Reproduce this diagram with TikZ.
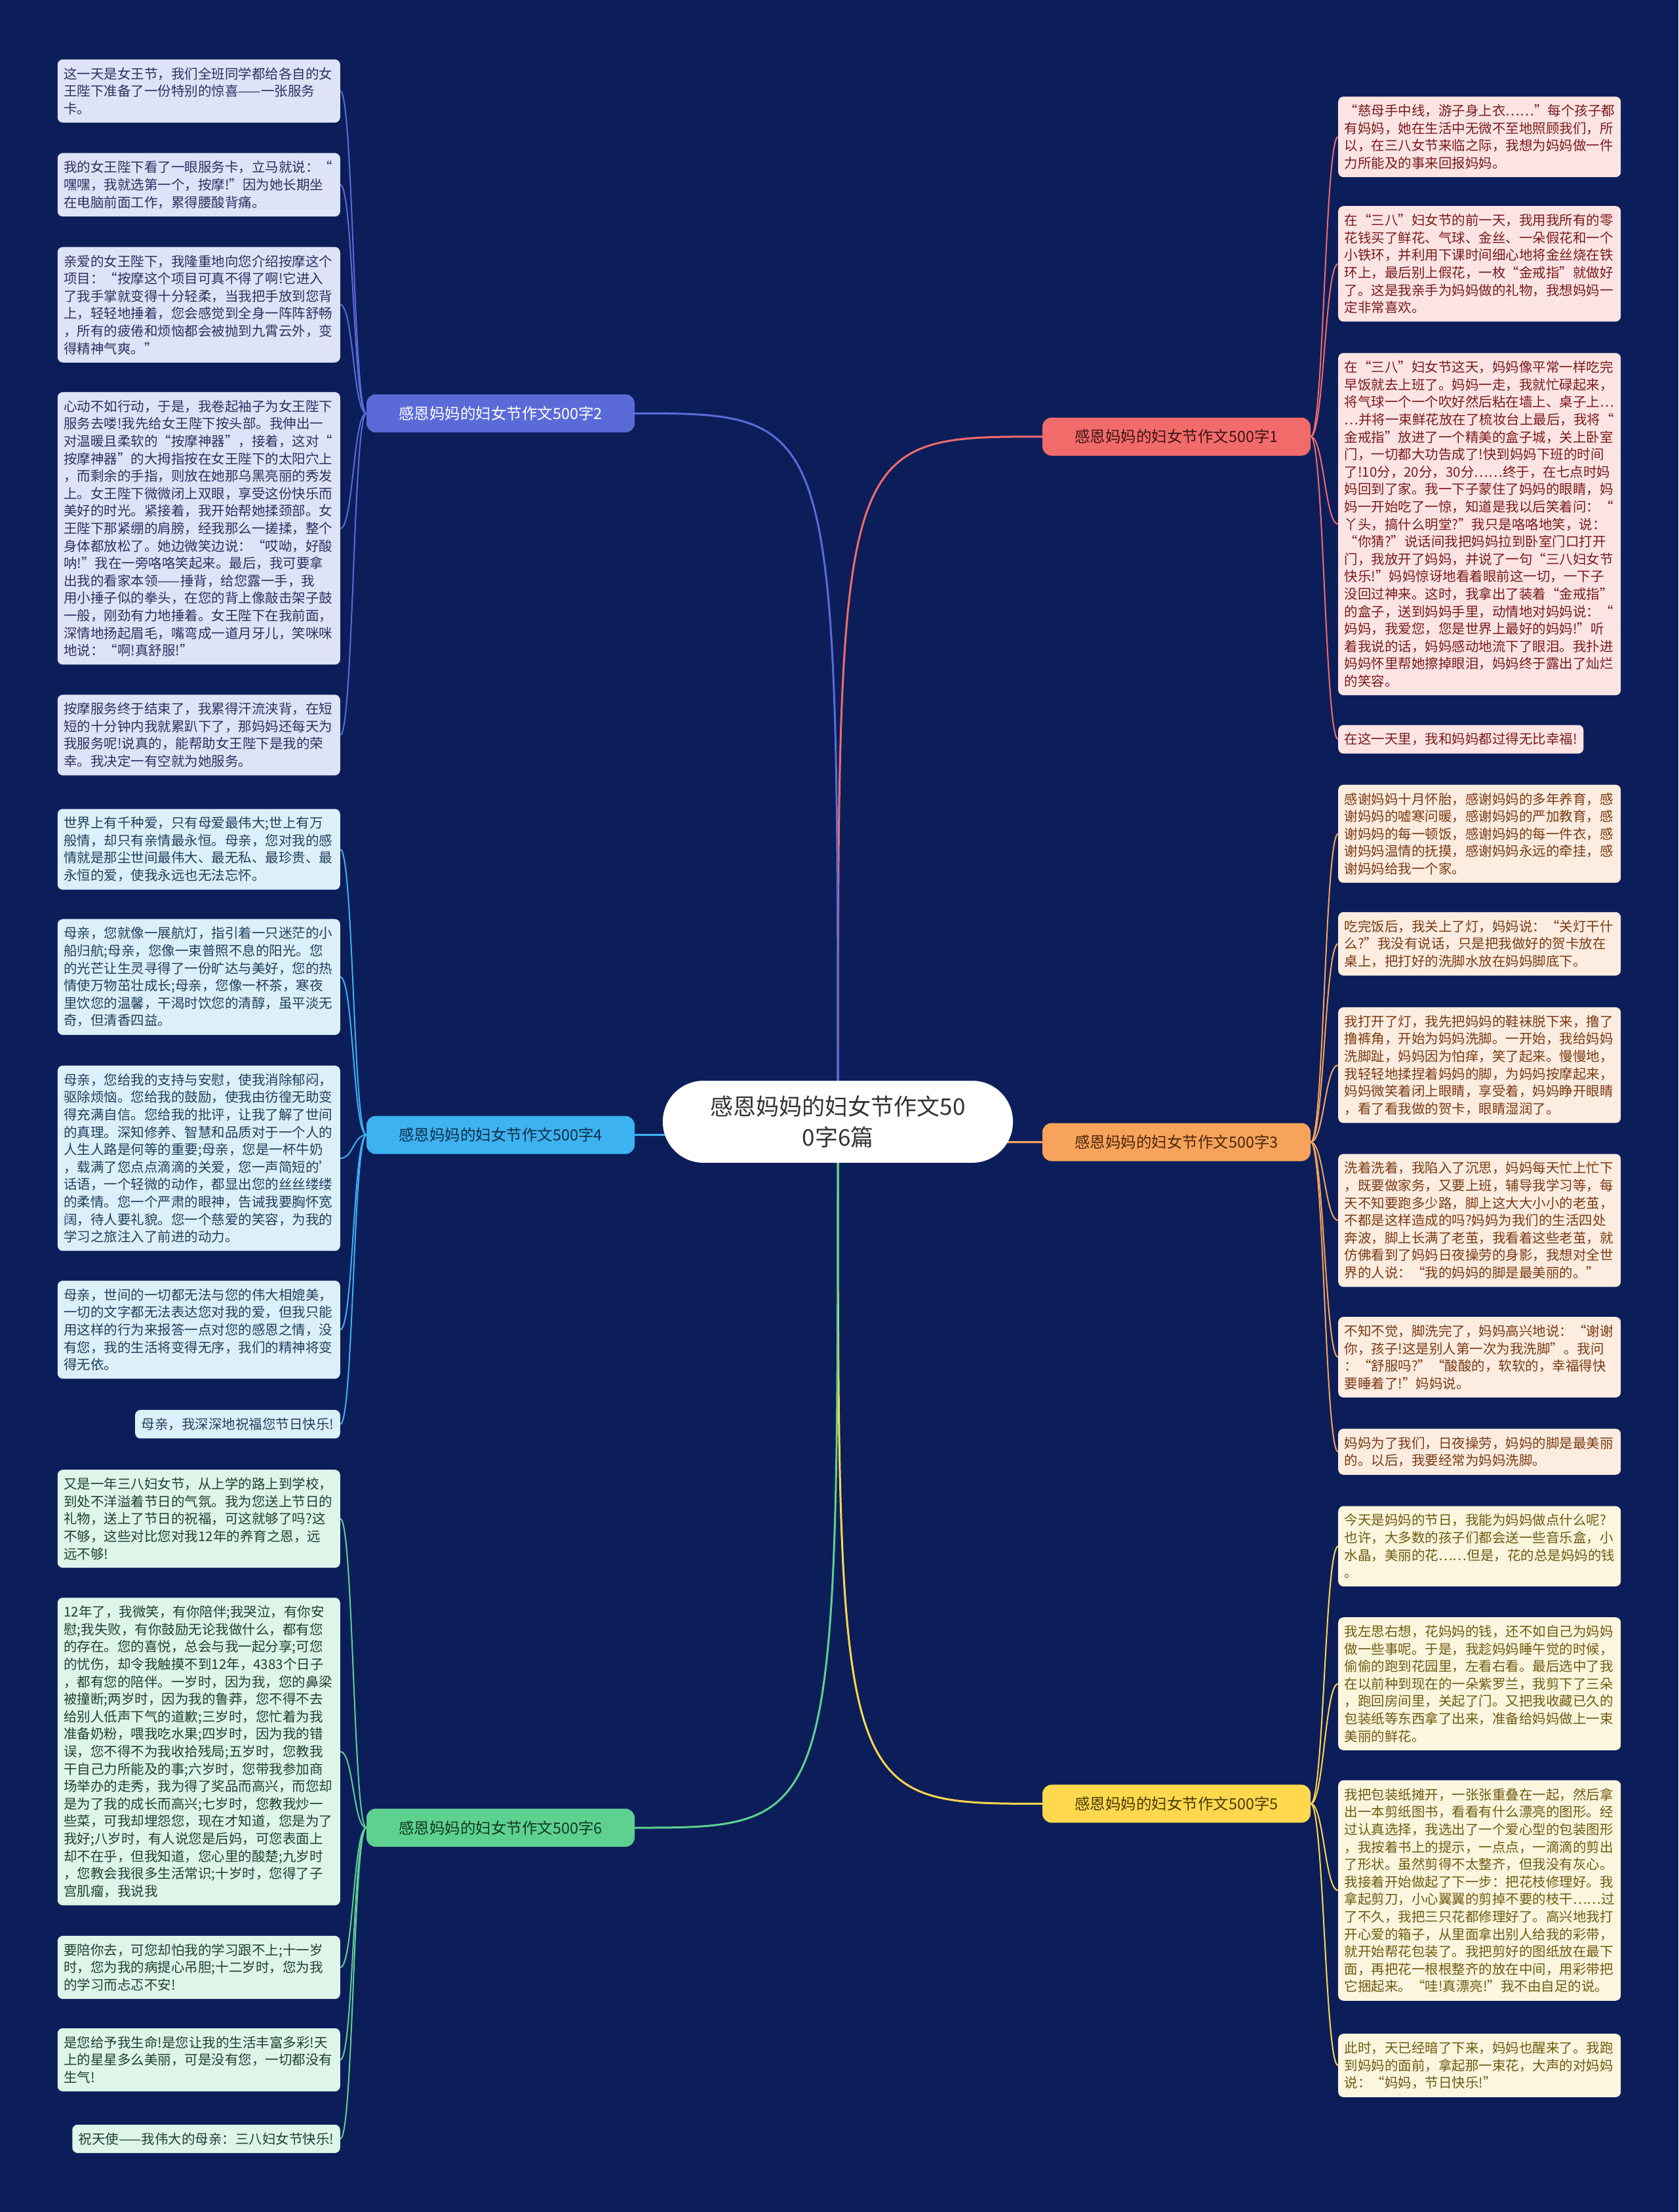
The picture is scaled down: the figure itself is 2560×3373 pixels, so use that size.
\documentclass[tikz,border=0pt]{standalone}
\usepackage{fontspec}
\setmainfont{Noto Sans CJK SC}
\usetikzlibrary{positioning,backgrounds}

\definecolor{bgnavy}{HTML}{0C1E5A}
\definecolor{rootink}{HTML}{333333}
% branch colours
\definecolor{b1fill}{HTML}{F26B6B}\definecolor{b1ink}{HTML}{3D1414}
\definecolor{b2fill}{HTML}{5A6BD8}\definecolor{b2ink}{HTML}{FFFFFF}
\definecolor{b3fill}{HTML}{F7A35C}\definecolor{b3ink}{HTML}{4A2608}
\definecolor{b4fill}{HTML}{3DB2F0}\definecolor{b4ink}{HTML}{0F2E4A}
\definecolor{b5fill}{HTML}{FFD84D}\definecolor{b5ink}{HTML}{4A3A05}
\definecolor{b6fill}{HTML}{5ED191}\definecolor{b6ink}{HTML}{0F3A22}
% leaf colours
\definecolor{g1fill}{HTML}{FDE4E4}\definecolor{g1ink}{HTML}{7A1A1A}
\definecolor{g2fill}{HTML}{DFE3F8}\definecolor{g2ink}{HTML}{2B3160}
\definecolor{g3fill}{HTML}{FDECE0}\definecolor{g3ink}{HTML}{7A3A12}
\definecolor{g4fill}{HTML}{DCF0FA}\definecolor{g4ink}{HTML}{1F3F5C}
\definecolor{g5fill}{HTML}{FDF6DE}\definecolor{g5ink}{HTML}{6E5A12}
\definecolor{g6fill}{HTML}{DEF5EA}\definecolor{g6ink}{HTML}{1E4030}

\newcommand{\leaffont}{\fontsize{20.5}{26.6}\selectfont}
\newcommand{\branchfont}{\fontsize{23.5}{28}\selectfont}
\newcommand{\rootfont}{\fontsize{35}{47}\selectfont}

\begin{document}
\begin{tikzpicture}[
  x=1pt, y=-1pt,
  rootnode/.style={rectangle, rounded corners=62pt, fill=white, text=rootink, minimum width=534pt, minimum height=125pt, align=center, font=\rootfont},
  branch/.style={rectangle, rounded corners=14pt, minimum width=409pt, minimum height=58pt, inner sep=0pt, font=\branchfont},
  leaf/.style={rectangle, rounded corners=8pt, inner xsep=9.5pt, inner ysep=12pt, align=left, font=\leaffont},
  wide/.style={text width=412pt},
  lleaf/.style={leaf, anchor=east},   % left column, hangs on its right edge
  rleaf/.style={leaf, anchor=west},   % right column, hangs on its left edge
  g1/.style={fill=g1fill, text=g1ink},
  g2/.style={fill=g2fill, text=g2ink},
  g3/.style={fill=g3fill, text=g3ink},
  g4/.style={fill=g4fill, text=g4ink},
  g5/.style={fill=g5fill, text=g5ink},
  g6/.style={fill=g6fill, text=g6ink},
  trunk/.style={line width=3pt},
  twig/.style={line width=2pt},
]
\useasboundingbox (0,0) rectangle (2560,3373);

% ============================== root & branches ==============================
\node[rootnode] (root) at (1278,1710.5) {感恩妈妈的妇女节作文50\\0字6篇};

\node[branch, fill=b1fill, text=b1ink] (b1) at (1794.5,665.8) {感恩妈妈的妇女节作文500字1};
\node[branch, fill=b2fill, text=b2ink] (b2) at (763.5,630.3)  {感恩妈妈的妇女节作文500字2};
\node[branch, fill=b3fill, text=b3ink] (b3) at (1794.5,1741.5) {感恩妈妈的妇女节作文500字3};
\node[branch, fill=b4fill, text=b4ink] (b4) at (763.5,1730.7) {感恩妈妈的妇女节作文500字4};
\node[branch, fill=b5fill, text=b5ink] (b5) at (1794.5,2750.4) {感恩妈妈的妇女节作文500字5};
\node[branch, fill=b6fill, text=b6ink] (b6) at (763.5,2787)   {感恩妈妈的妇女节作文500字6};

% ============================== branch 1 (right) ==============================
\node[rleaf, wide, g1] (r1a) at (2041,208.7) {“慈母手中线，游子身上衣……”每个孩子都\\有妈妈，她在生活中无微不至地照顾我们，所\\以，在三八女节来临之际，我想为妈妈做一件\\力所能及的事来回报妈妈。};
\node[rleaf, wide, g1] (r1b) at (2041,402.3) {在“三八”妇女节的前一天，我用我所有的零\\花钱买了鲜花、气球、金丝、一朵假花和一个\\小铁环，并利用下课时间细心地将金丝烧在铁\\环上，最后别上假花，一枚“金戒指”就做好\\了。这是我亲手为妈妈做的礼物，我想妈妈一\\定非常喜欢。};
\node[rleaf, wide, g1] (r1c) at (2041,799.2) {在“三八”妇女节这天，妈妈像平常一样吃完\\早饭就去上班了。妈妈一走，我就忙碌起来，\\将气球一个一个吹好然后粘在墙上、桌子上…\\…并将一束鲜花放在了梳妆台上最后，我将“\\金戒指”放进了一个精美的盒子城，关上卧室\\门，一切都大功告成了!快到妈妈下班的时间\\了!10分，20分，30分……终于，在七点时妈\\妈回到了家。我一下子蒙住了妈妈的眼睛，妈\\妈一开始吃了一惊，知道是我以后笑着问：“\\丫头，搞什么明堂?”我只是咯咯地笑，说：\\“你猜?”说话间我把妈妈拉到卧室门口打开\\门，我放开了妈妈，并说了一句“三八妇女节\\快乐!”妈妈惊讶地看着眼前这一切，一下子\\没回过神来。这时，我拿出了装着“金戒指”\\的盒子，送到妈妈手里，动情地对妈妈说：“\\妈妈，我爱您，您是世界上最好的妈妈!”听\\着我说的话，妈妈感动地流下了眼泪。我扑进\\妈妈怀里帮她擦掉眼泪，妈妈终于露出了灿烂\\的笑容。};
\node[rleaf, g1] (r1d) at (2041,1127.3) {在这一天里，我和妈妈都过得无比幸福!};

% ============================== branch 2 (left) ==============================
\node[lleaf, wide, g2] (l2a) at (519,138.8) {这一天是女王节，我们全班同学都给各自的女\\王陛下准备了一份特别的惊喜——一张服务\\卡。};
\node[lleaf, wide, g2] (l2b) at (519,281.8) {我的女王陛下看了一眼服务卡，立马就说：“\\嘿嘿，我就选第一个，按摩!”因为她长期坐\\在电脑前面工作，累得腰酸背痛。};
\node[lleaf, wide, g2] (l2c) at (519,464.7) {亲爱的女王陛下，我隆重地向您介绍按摩这个\\项目：“按摩这个项目可真不得了啊!它进入\\了我手掌就变得十分轻柔，当我把手放到您背\\上，轻轻地捶着，您会感觉到全身一阵阵舒畅\\，所有的疲倦和烦恼都会被抛到九霄云外，变\\得精神气爽。”};
\node[lleaf, wide, g2] (l2d) at (519,805.7) {心动不如行动，于是，我卷起袖子为女王陛下\\服务去喽!我先给女王陛下按头部。我伸出一\\对温暖且柔软的“按摩神器”，接着，这对“\\按摩神器”的大拇指按在女王陛下的太阳穴上\\，而剩余的手指，则放在她那乌黑亮丽的秀发\\上。女王陛下微微闭上双眼，享受这份快乐而\\美好的时光。紧接着，我开始帮她揉颈部。女\\王陛下那紧绷的肩膀，经我那么一搓揉，整个\\身体都放松了。她边微笑边说：“哎呦，好酸\\呐!”我在一旁咯咯笑起来。最后，我可要拿\\出我的看家本领——捶背，给您露一手，我\\用小捶子似的拳头，在您的背上像敲击架子鼓\\一般，刚劲有力地捶着。女王陛下在我前面，\\深情地扬起眉毛，嘴弯成一道月牙儿，笑咪咪\\地说：“啊!真舒服!”};
\node[lleaf, wide, g2] (l2e) at (519,1120.8) {按摩服务终于结束了，我累得汗流浃背，在短\\短的十分钟内我就累趴下了，那妈妈还每天为\\我服务呢!说真的，能帮助女王陛下是我的荣\\幸。我决定一有空就为她服务。};

% ============================== branch 3 (right) ==============================
\node[rleaf, wide, g3] (r3a) at (2041,1271.4) {感谢妈妈十月怀胎，感谢妈妈的多年养育，感\\谢妈妈的嘘寒问暖，感谢妈妈的严加教育，感\\谢妈妈的每一顿饭，感谢妈妈的每一件衣，感\\谢妈妈温情的抚摸，感谢妈妈永远的牵挂，感\\谢妈妈给我一个家。};
\node[rleaf, wide, g3] (r3b) at (2041,1439.2) {吃完饭后，我关上了灯，妈妈说：“关灯干什\\么?”我没有说话，只是把我做好的贺卡放在\\桌上，把打好的洗脚水放在妈妈脚底下。};
\node[rleaf, wide, g3] (r3c) at (2041,1624.2) {我打开了灯，我先把妈妈的鞋袜脱下来，撸了\\撸裤角，开始为妈妈洗脚。一开始，我给妈妈\\洗脚趾，妈妈因为怕痒，笑了起来。慢慢地，\\我轻轻地揉捏着妈妈的脚，为妈妈按摩起来，\\妈妈微笑着闭上眼睛，享受着，妈妈睁开眼睛\\，看了看我做的贺卡，眼睛湿润了。};
\node[rleaf, wide, g3] (r3d) at (2041,1860.9) {洗着洗着，我陷入了沉思，妈妈每天忙上忙下\\，既要做家务，又要上班，辅导我学习等，每\\天不知要跑多少路，脚上这大大小小的老茧，\\不都是这样造成的吗?妈妈为我们的生活四处\\奔波，脚上长满了老茧，我看着这些老茧，就\\仿佛看到了妈妈日夜操劳的身影，我想对全世\\界的人说：“我的妈妈的脚是最美丽的。”};
\node[rleaf, wide, g3] (r3e) at (2041,2069.5) {不知不觉，脚洗完了，妈妈高兴地说：“谢谢\\你，孩子!这是别人第一次为我洗脚”。我问\\：“舒服吗?”“酸酸的，软软的，幸福得快\\要睡着了!”妈妈说。};
\node[rleaf, wide, g3] (r3f) at (2041,2213.7) {妈妈为了我们，日夜操劳，妈妈的脚是最美丽\\的。以后，我要经常为妈妈洗脚。};

% ============================== branch 4 (left) ==============================
\node[lleaf, wide, g4] (l4a) at (519,1295.1) {世界上有千种爱，只有母爱最伟大;世上有万\\般情，却只有亲情最永恒。母亲，您对我的感\\情就是那尘世间最伟大、最无私、最珍贵、最\\永恒的爱，使我永远也无法忘怀。};
\node[lleaf, wide, g4] (l4b) at (519,1489.8) {母亲，您就像一展航灯，指引着一只迷茫的小\\船归航;母亲，您像一束普照不息的阳光。您\\的光芒让生灵寻得了一份旷达与美好，您的热\\情使万物茁壮成长;母亲，您像一杯茶，寒夜\\里饮您的温馨，干渴时饮您的清醇，虽平淡无\\奇，但清香四益。};
\node[lleaf, wide, g4] (l4c) at (519,1766.2) {母亲，您给我的支持与安慰，使我消除郁闷，\\驱除烦恼。您给我的鼓励，使我由彷徨无助变\\得充满自信。您给我的批评，让我了解了世间\\的真理。深知修养、智慧和品质对于一个人的\\人生人路是何等的重要;母亲，您是一杯牛奶\\，载满了您点点滴滴的关爱，您一声简短的'\\话语，一个轻微的动作，都显出您的丝丝缕缕\\的柔情。您一个严肃的眼神，告诫我要胸怀宽\\阔，待人要礼貌。您一个慈爱的笑容，为我的\\学习之旅注入了前进的动力。};
\node[lleaf, wide, g4] (l4d) at (519,2027.6) {母亲，世间的一切都无法与您的伟大相媲美，\\一切的文字都无法表达您对我的爱，但我只能\\用这样的行为来报答一点对您的感恩之情，没\\有您，我的生活将变得无序，我们的精神将变\\得无依。};
\node[lleaf, g4] (l4e) at (519,2171.7) {母亲，我深深地祝福您节日快乐!};

% ============================== branch 5 (right) ==============================
\node[rleaf, wide, g5] (r5a) at (2041,2357.8) {今天是妈妈的节日，我能为妈妈做点什么呢?\\也许，大多数的孩子们都会送一些音乐盒，小\\水晶，美丽的花……但是，花的总是妈妈的钱\\。};
\node[rleaf, wide, g5] (r5b) at (2041,2567.5) {我左思右想，花妈妈的钱，还不如自己为妈妈\\做一些事呢。于是，我趁妈妈睡午觉的时候，\\偷偷的跑到花园里，左看右看。最后选中了我\\在以前种到现在的一朵紫罗兰，我剪下了三朵\\，跑回房间里，关起了门。又把我收藏已久的\\包装纸等东西拿了出来，准备给妈妈做上一束\\美丽的鲜花。};
\node[rleaf, wide, g5] (r5c) at (2041,2882.7) {我把包装纸摊开，一张张重叠在一起，然后拿\\出一本剪纸图书，看看有什么漂亮的图形。经\\过认真选择，我选出了一个爱心型的包装图形\\，我按着书上的提示，一点点，一滴滴的剪出\\了形状。虽然剪得不太整齐，但我没有灰心。\\我接着开始做起了下一步：把花枝修理好。我\\拿起剪刀，小心翼翼的剪掉不要的枝干……过\\了不久，我把三只花都修理好了。高兴地我打\\开心爱的箱子，从里面拿出别人给我的彩带，\\就开始帮花包装了。我把剪好的图纸放在最下\\面，再把花一根根整齐的放在中间，用彩带把\\它捆起来。“哇!真漂亮!”我不由自足的说。};
\node[rleaf, wide, g5] (r5d) at (2041,3149.5) {此时，天已经暗了下来，妈妈也醒来了。我跑\\到妈妈的面前，拿起那一束花，大声的对妈妈\\说：“妈妈，节日快乐!”};

% ============================== branch 6 (left) ==============================
\node[lleaf, wide, g6] (l6a) at (519,2315.9) {又是一年三八妇女节，从上学的路上到学校，\\到处不洋溢着节日的气氛。我为您送上节日的\\礼物，送上了节日的祝福，可这就够了吗?这\\不够，这些对比您对我12年的养育之恩，远\\远不够!};
\node[lleaf, wide, g6] (l6b) at (519,2670.8) {12年了，我微笑，有你陪伴;我哭泣，有你安\\慰;我失败，有你鼓励无论我做什么，都有您\\的存在。您的喜悦，总会与我一起分享;可您\\的忧伤，却令我触摸不到12年，4383个日子\\，都有您的陪伴。一岁时，因为我，您的鼻梁\\被撞断;两岁时，因为我的鲁莽，您不得不去\\给别人低声下气的道歉;三岁时，您忙着为我\\准备奶粉，喂我吃水果;四岁时，因为我的错\\误，您不得不为我收拾残局;五岁时，您教我\\干自己力所能及的事;六岁时，您带我参加商\\场举办的走秀，我为得了奖品而高兴，而您却\\是为了我的成长而高兴;七岁时，您教我炒一\\些菜，可我却埋怨您，现在才知道，您是为了\\我好;八岁时，有人说您是后妈，可您表面上\\却不在乎，但我知道，您心里的酸楚;九岁时\\，您教会我很多生活常识;十岁时，您得了子\\宫肌瘤，我说我};
\node[lleaf, wide, g6] (l6c) at (519,3000) {要陪你去，可您却怕我的学习跟不上;十一岁\\时，您为我的病提心吊胆;十二岁时，您为我\\的学习而忐忑不安!};
\node[lleaf, wide, g6] (l6d) at (519,3140.9) {是您给予我生命!是您让我的生活丰富多彩!天\\上的星星多么美丽，可是没有您，一切都没有\\生气!};
\node[lleaf, g6] (l6e) at (519,3261.4) {祝天使——我伟大的母亲：三八妇女节快乐!};

% ============================== connectors (background) ==============================
\begin{scope}[on background layer]
  \fill[bgnavy] (0,0) rectangle (2560,3373);
  % root to branches
  \draw[trunk, draw=b1fill] (root.center) .. controls (root.center |- b1.west) and (root.center |- b1.west) .. (b1.west);
  \draw[trunk, draw=b2fill] (root.center) .. controls (root.center |- b2.east) and (root.center |- b2.east) .. (b2.east);
  \draw[trunk, draw=b3fill] (root.center) .. controls (root.center |- b3.west) and (root.center |- b3.west) .. (b3.west);
  \draw[trunk, draw=b4fill] (root.center) .. controls (root.center |- b4.east) and (root.center |- b4.east) .. (b4.east);
  \draw[trunk, draw=b5fill] (root.center) .. controls (root.center |- b5.west) and (root.center |- b5.west) .. (b5.west);
  \draw[trunk, draw=b6fill] (root.center) .. controls (root.center |- b6.east) and (root.center |- b6.east) .. (b6.east);
  % branches to leaves
  \foreach \n in {a,b,c,d}
    \draw[twig, draw=b1fill] (b1.east) .. controls +(20,0) and +(-20,0) .. (r1\n.west);
  \foreach \n in {a,b,c,d,e}
    \draw[twig, draw=b2fill] (b2.west) .. controls +(-20,0) and +(20,0) .. (l2\n.east);
  \foreach \n in {a,b,c,d,e,f}
    \draw[twig, draw=b3fill] (b3.east) .. controls +(20,0) and +(-20,0) .. (r3\n.west);
  \foreach \n in {a,b,c,d,e}
    \draw[twig, draw=b4fill] (b4.west) .. controls +(-20,0) and +(20,0) .. (l4\n.east);
  \foreach \n in {a,b,c,d}
    \draw[twig, draw=b5fill] (b5.east) .. controls +(20,0) and +(-20,0) .. (r5\n.west);
  \foreach \n in {a,b,c,d,e}
    \draw[twig, draw=b6fill] (b6.west) .. controls +(-20,0) and +(20,0) .. (l6\n.east);
\end{scope}
\end{tikzpicture}
\end{document}
